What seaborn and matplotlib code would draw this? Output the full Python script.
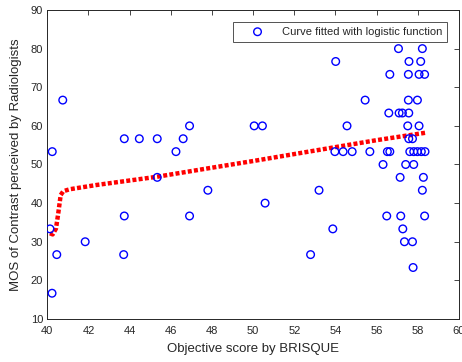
import numpy as np
import pandas as pd
import seaborn as sns
import matplotlib.pyplot as plt

sns.set_theme(style='white')
plt.rcParams['font.family'] = ['Liberation Sans', 'DejaVu Sans']

# subjective scores (mean of three raters) vs BRISQUE score
brisque = [40.75, 40.24, 43.74, 44.47, 45.34, 46.25, 46.60, 46.91, 50.05, 45.34,
           57.06, 58.22, 54.01, 57.57, 58.14,
           56.64, 57.54, 58.06, 58.33,
           55.44, 57.54, 57.98,
           56.59, 57.09, 57.25, 57.56,
           50.45, 54.56, 57.51, 58.06,
           57.56, 57.74,
           53.97, 54.37, 54.81, 55.67, 56.52, 56.64, 57.61, 57.80, 57.98, 58.17, 58.35,
           56.31, 57.41, 57.80,
           57.14, 58.27,
           40.13, 40.46, 40.23, 41.84, 43.74, 43.71, 46.91, 47.80,
           53.20, 58.22, 50.58, 56.49, 57.17, 58.33, 53.87, 57.27, 57.35, 57.74, 52.79, 57.77]
mos = [66.67, 53.33, 56.67, 56.67, 56.67, 53.33, 56.67, 60.00, 60.00, 46.67,
       80.00, 80.00, 76.67, 76.67, 76.67,
       73.33, 73.33, 73.33, 73.33,
       66.67, 66.67, 66.67,
       63.33, 63.33, 63.33, 63.33,
       60.00, 60.00, 60.00, 60.00,
       56.67, 56.67,
       53.33, 53.33, 53.33, 53.33, 53.33, 53.33, 53.33, 53.33, 53.33, 53.33, 53.33,
       50.00, 50.00, 50.00,
       46.67, 46.67,
       33.33, 26.67, 16.67, 30.00, 36.67, 26.67, 36.67, 43.33,
       43.33, 43.33, 40.00, 36.67, 36.67, 36.67, 33.33, 33.33, 30.00, 30.00, 26.67, 23.33]

# fitted logistic curve
fit_x = [40.13, 40.26, 40.42, 40.53, 40.65, 40.78, 41.10, 42.40, 45.30, 47.80, 50.00, 54.00, 56.00, 58.35]
fit_y = [32.2, 31.9, 33.4, 37.3, 42.1, 43.1, 43.6, 44.7, 46.8, 49.0, 50.9, 54.5, 56.3, 58.2]

df = pd.DataFrame({'x': brisque, 'y': mos})
fit = pd.DataFrame({'x': fit_x, 'y': fit_y})

fig = plt.figure(figsize=(4.62, 3.62), dpi=100)
ax = fig.add_axes([0.1024, 0.1188, 0.8911, 0.8536])

sns.scatterplot(data=df, x='x', y='y', ax=ax, marker='o', s=30,
                facecolor='none', edgecolor='#0000ff', linewidth=1.0,
                label='Curve fitted with logistic function', zorder=3)
sns.lineplot(data=fit, x='x', y='y', ax=ax, sort=False, estimator=None,
             color='#ff0000', linewidth=3.2, dashes=False, zorder=2)
ax.lines[-1].set_dashes((0.9, 0.5))

ax.set_xlim(40, 60)
ax.set_ylim(10, 90)
ax.set_xticks(np.arange(40, 61, 2))
ax.set_yticks(np.arange(10, 91, 10))
ax.tick_params(direction='in', top=True, right=True, length=3.5, width=0.6,
               colors='#262626', labelsize=8, labelcolor='#262626', pad=3)
ax.tick_params(axis='x', pad=5)
for s in ax.spines.values():
    s.set_color('#262626')
    s.set_linewidth(0.7)

ax.set_xlabel('Objective score by BRISQUE', fontsize=9.5, color='#262626', labelpad=5)
ax.set_ylabel('MOS of Contrast perceived by Radiologists', fontsize=9.5, color='#262626', labelpad=6)

leg = ax.legend(loc='upper right', fontsize=8, frameon=True, fancybox=False,
                borderaxespad=1.05, handlelength=3.6, handletextpad=0.4, borderpad=0.45)
leg.get_frame().set_edgecolor('#262626')
leg.get_frame().set_linewidth(0.7)
for t in leg.get_texts():
    t.set_color('#262626')

fig.savefig('out.png', dpi=100)
